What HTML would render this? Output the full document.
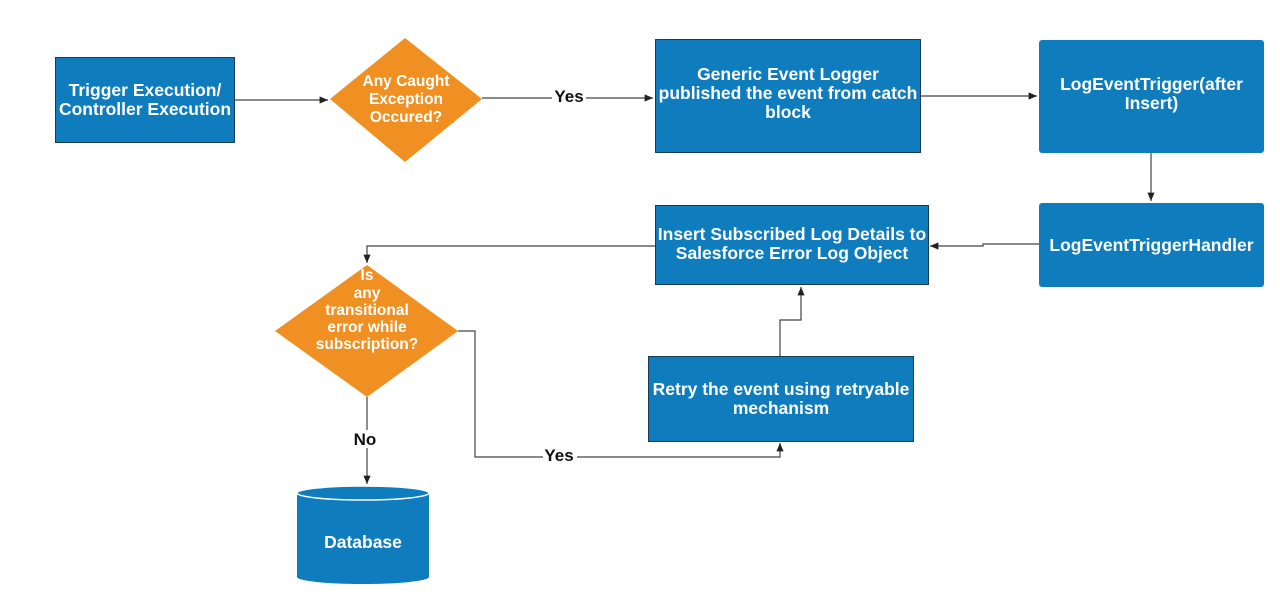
<!DOCTYPE html><html><head><style>
body{margin:0;background:#fff;width:1280px;height:599px;overflow:hidden;position:relative;font-family:"Liberation Sans",sans-serif}
.b{position:absolute;background:#0e7cbd;color:#fff;font-weight:bold;font-size:17.5px;display:flex;align-items:center;justify-content:center;text-align:center;box-sizing:border-box;line-height:19px}
.d{border:1.5px solid #1a3a52}
.r{border-radius:3px}
svg{position:absolute;left:0;top:0}
</style></head><body>
<svg width="1280" height="599">
<defs><marker id="a" markerWidth="8" markerHeight="8" refX="7" refY="4" orient="auto"><path d="M0,1 L7,4 L0,7z" fill="#222"/></marker></defs>
<g stroke="#444" stroke-width="1.2" fill="none">
<path d="M234,100 H328" marker-end="url(#a)"/>
<path d="M482,98 H653" marker-end="url(#a)"/>
<path d="M920,96 H1037" marker-end="url(#a)"/>
<path d="M1151,152 V201" marker-end="url(#a)"/>
<path d="M1039,244 H983 V246 H930" marker-end="url(#a)"/>
<path d="M655,246 H367 V263" marker-end="url(#a)"/>
<path d="M367,397 V484" marker-end="url(#a)"/>
<path d="M458,331 H475 V457 H780 V443" marker-end="url(#a)"/>
<path d="M780,356 V320 H801 V287" marker-end="url(#a)"/>
</g>
<rect x="552" y="88" width="34" height="16" fill="#fff"/>
<rect x="350" y="430" width="30" height="18" fill="#fff"/>
<rect x="543" y="447" width="34" height="16" fill="#fff"/>
<g font-family="Liberation Sans" font-weight="bold" font-size="17" fill="#111" text-anchor="middle">
<text x="569" y="102">Yes</text><text x="365" y="445">No</text><text x="559" y="461">Yes</text></g>
<polygon points="405,38 482,99 405,162 330,99" fill="#f09022"/>
<polygon points="367,265 458,331 367,397 275,331" fill="#f09022"/>
<g font-family="Liberation Sans" font-weight="bold" font-size="15.5" fill="#fff" text-anchor="middle">
<text x="406" y="86">Any Caught</text><text x="406" y="104">Exception</text><text x="406" y="122">Occured?</text>
<text x="367" y="280">Is</text><text x="367" y="298">any</text><text x="367" y="315">transitional</text><text x="367" y="332">error while</text><text x="367" y="349">subscription?</text>
</g>
<path d="M297,493 V577 A66,7 0 0 0 429,577 V493" fill="#0e7cbd"/>
<ellipse cx="363" cy="493" rx="66" ry="7" fill="#0e7cbd" stroke="#fff" stroke-width="1.5"/>
<text x="363" y="548" font-family="Liberation Sans" font-weight="bold" font-size="17.5" fill="#fff" text-anchor="middle">Database</text>
</svg>
<div class="b d" style="left:55px;top:57px;width:180px;height:86px">Trigger Execution/<br>Controller Execution</div>
<div class="b d" style="left:655px;top:39px;width:266px;height:114px;padding-bottom:6px">Generic Event Logger<br>published the event from catch<br>block</div>
<div class="b r" style="left:1039px;top:40px;width:225px;height:113px;padding-bottom:6px">LogEventTrigger(after<br>Insert)</div>
<div class="b r" style="left:1039px;top:203px;width:225px;height:84px">LogEventTriggerHandler</div>
<div class="b d" style="left:655px;top:205px;width:274px;height:80px;padding-bottom:2px">Insert Subscribed Log Details to<br>Salesforce Error Log Object</div>
<div class="b d" style="left:648px;top:356px;width:266px;height:86px;padding-bottom:0px">Retry the event using retryable<br>mechanism</div>
</body></html>
